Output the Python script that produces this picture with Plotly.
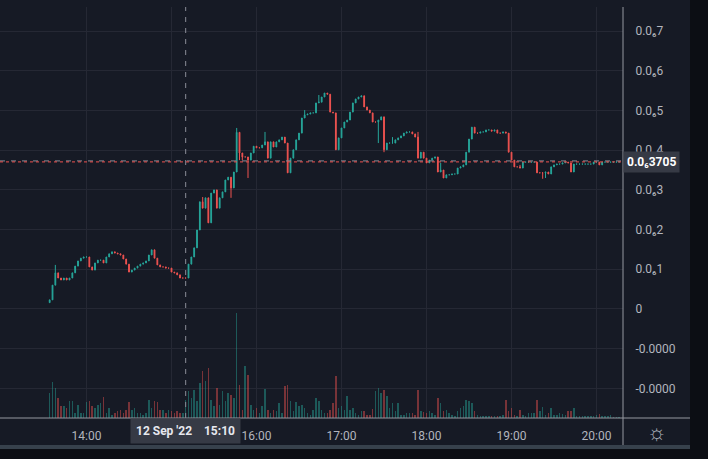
import pandas as pd
import plotly.graph_objects as go

# 2-minute candles, prices in units of 1e-7 (axis labels use the 0.0₆ notation)
start = "2022-09-12 13:34"
first_open = 0.16
closes = [
    0.23, 0.60, 0.91, 0.78, 0.73, 0.78, 0.73, 0.78, 0.91, 1.08,
    1.21, 1.28, 1.31, 1.31, 1.06, 0.98, 1.16, 1.23, 1.23, 1.16,
    1.31, 1.39, 1.44, 1.41, 1.39, 1.36, 1.26, 1.13, 0.93, 0.98,
    1.03, 1.08, 1.13, 1.16, 1.21, 1.36, 1.49, 1.28, 1.11, 1.06,
    1.06, 1.03, 1.03, 0.93, 0.91, 0.86, 0.78, 0.78, 0.78, 1.13,
    1.31, 1.54, 1.99, 2.70, 2.54, 2.80, 2.17, 2.92, 3.00, 2.54,
    2.80, 2.95, 3.25, 3.32, 3.05, 3.45, 4.45, 3.93, 3.83, 3.83,
    3.75, 3.93, 4.10, 4.06, 4.06, 4.13, 4.21, 3.80, 4.21, 4.08,
    4.21, 4.26, 4.33, 4.18, 3.43, 3.80, 4.01, 4.26, 4.43, 4.81,
    4.89, 4.91, 4.94, 4.94, 5.19, 5.21, 5.34, 5.44, 5.41, 4.96,
    4.94, 4.01, 4.31, 4.56, 4.71, 4.76, 4.96, 5.19, 5.29, 5.34,
    5.37, 5.09, 5.01, 4.94, 4.71, 4.71, 4.76, 4.84, 4.01, 4.18,
    4.18, 4.18, 4.26, 4.31, 4.36, 4.43, 4.46, 4.46, 4.41, 4.33,
    3.80, 3.95, 3.80, 3.68, 3.75, 3.80, 3.83, 3.45, 3.50, 3.30,
    3.38, 3.38, 3.40, 3.40, 3.55, 3.58, 3.63, 3.95, 4.28, 4.58,
    4.43, 4.43, 4.46, 4.46, 4.51, 4.51, 4.48, 4.51, 4.43, 4.43,
    4.46, 4.43, 3.95, 3.75, 3.58, 3.58, 3.55, 3.70, 3.70, 3.70,
    3.70, 3.70, 3.43, 3.43, 3.43, 3.45, 3.40, 3.58, 3.63, 3.65,
    3.65, 3.68, 3.70, 3.68, 3.45, 3.65, 3.65, 3.65, 3.65, 3.65,
    3.65, 3.65, 3.70, 3.70, 3.63, 3.70, 3.70, 3.70, 3.70, 3.70,
    3.70, 3.705,
]
# candles whose wick goes past the body
wick_highs = {2: 1.11, 54: 2.82, 66: 4.56, 76: 4.46, 90: 5.01, 95: 5.39,
              121: 4.33, 130: 4.46, 138: 3.68, 166: 3.63}
wick_lows = {64: 2.80, 67: 3.75, 68: 3.75, 70: 3.30, 116: 4.18, 118: 3.95,
             174: 3.28, 175: 3.30}

volumes = [
    25, 36, 30, 20, 12, 12, 10, 17, 17, 5,
    13, 5, 5, 16, 17, 12, 10, 13, 15, 21,
    5, 10, 3, 5, 7, 8, 5, 8, 16, 8,
    10, 5, 5, 3, 5, 18, 10, 17, 16, 8,
    8, 5, 8, 7, 5, 7, 5, 5, 18, 27,
    20, 28, 17, 35, 47, 37, 50, 18, 12, 30,
    13, 27, 17, 25, 23, 20, 105, 33, 8, 52,
    43, 13, 8, 10, 5, 12, 29, 8, 5, 8,
    7, 15, 5, 32, 33, 17, 7, 16, 12, 13,
    10, 5, 3, 8, 20, 17, 8, 5, 5, 8,
    15, 42, 10, 12, 8, 22, 8, 10, 5, 3,
    7, 7, 3, 3, 9, 27, 30, 25, 28, 22,
    10, 15, 7, 15, 3, 3, 5, 5, 5, 3,
    28, 7, 6, 5, 7, 5, 3, 20, 15, 7,
    8, 5, 3, 2, 7, 10, 12, 18, 17, 15,
    7, 3, 2, 2, 2, 2, 2, 2, 2, 2,
    3, 18, 7, 10, 3, 2, 8, 3, 2, 5,
    5, 5, 18, 7, 11, 3, 5, 10, 3, 3,
    5, 4, 3, 7, 7, 10, 2, 2, 2, 2,
    2, 2, 2, 3, 4, 2, 2, 2, 3, 1,
    1, 1,
]

price_ticks = [-2, -1, 0, 1, 2, 3, 4, 5, 6, 7]
price_labels = ["-0.0000", "-0.0000", "0", "0.0₆1", "0.0₆2", "0.0₆3",
                "0.0₆4", "0.0₆5", "0.0₆6", "0.0₆7"]
hour_ticks = ["2022-09-12 14:00", "2022-09-12 15:00", "2022-09-12 16:00",
              "2022-09-12 17:00", "2022-09-12 18:00", "2022-09-12 19:00",
              "2022-09-12 20:00"]
# 15:00 is hidden behind the crosshair time label
hour_labels = ["14:00", "", "16:00", "17:00", "18:00", "19:00", "20:00"]

last_price = 3.705
last_label = "0.0₆3705"
cursor_time = "2022-09-12 15:10"
cursor_price = 3.73
cursor_label = "12 Sep '22&nbsp;&nbsp;&nbsp;&nbsp;15:10"

UP = "#26a69a"
DOWN = "#ef5350"
BG = "#161a25"
TXT = "#b2b5be"

times = pd.date_range(start, periods=len(closes), freq="2min")
opens = [first_open] + closes[:-1]
highs = [wick_highs.get(i, max(o, c)) for i, (o, c) in enumerate(zip(opens, closes))]
lows = [wick_lows.get(i, min(o, c)) for i, (o, c) in enumerate(zip(opens, closes))]
vol_colors = ["rgba(38,166,154,0.45)" if c >= o else "rgba(239,83,80,0.45)"
              for o, c in zip(opens, closes)]

fig = go.Figure()
fig.add_trace(go.Candlestick(
    x=times, open=opens, high=highs, low=lows, close=closes,
    increasing=dict(line=dict(color=UP, width=1), fillcolor=UP),
    decreasing=dict(line=dict(color=DOWN, width=1), fillcolor=DOWN),
    whiskerwidth=0, hoverinfo="skip",
))
fig.add_trace(go.Bar(
    x=times, y=volumes, marker_color=vol_colors, marker_line_width=0,
    width=60000, yaxis="y2", hoverinfo="skip",
))

panel_right = 690 / 623
panel_bottom = (418 - 445) / 411

fig.update_layout(
    width=708, height=459,
    margin=dict(l=0, r=85, t=7, b=41),
    paper_bgcolor="#0c0e14",
    plot_bgcolor=BG,
    showlegend=False,
    font=dict(family="Roboto", size=12, color=TXT),
    xaxis=dict(
        type="date",
        range=["2022-09-12 12:58:56", "2022-09-12 20:18:42"],
        tickvals=hour_ticks, ticktext=hour_labels,
        showgrid=True, gridcolor="#252834", gridwidth=1,
        zeroline=False, showline=False,
        ticks="outside", ticklen=7, tickcolor="rgba(0,0,0,0)",
        tickfont=dict(size=12, color=TXT),
        rangeslider=dict(visible=False),
    ),
    yaxis=dict(
        side="right",
        range=[-2.746, 7.607],
        tickvals=price_ticks, ticktext=price_labels,
        showgrid=True, gridcolor="#252834", gridwidth=1,
        zeroline=False, showline=False,
        ticks="outside", ticklen=9, tickcolor="rgba(0,0,0,0)",
        tickfont=dict(size=12, color=TXT),
    ),
    yaxis2=dict(overlaying="y", range=[0, 411], visible=False),
    bargap=0,
    boxgap=0.6,
)

fig.add_shape(type="rect", xref="paper", yref="paper", x0=0, x1=panel_right,
              y0=panel_bottom, y1=1.02, fillcolor=BG, line_width=0, layer="below")
fig.add_shape(type="rect", xref="paper", yref="paper", x0=0, x1=panel_right,
              y0=(418 - 449) / 411, y1=panel_bottom, fillcolor="#37414c", line_width=0)
fig.add_shape(type="line", xref="paper", yref="paper", x0=1, x1=1,
              y0=panel_bottom, y1=1, line=dict(color="#9598a1", width=1))
fig.add_shape(type="line", xref="paper", yref="paper", x0=0, x1=panel_right,
              y0=0, y1=0, line=dict(color="#9598a1", width=1))
# crosshair
fig.add_shape(type="line", xref="x", yref="paper", x0=cursor_time, x1=cursor_time,
              y0=0, y1=1, line=dict(color="#8a8d97", width=1, dash="5px,6px"))
fig.add_shape(type="line", xref="paper", yref="y", x0=0, x1=1,
              y0=cursor_price, y1=cursor_price,
              line=dict(color="#8a8d97", width=1, dash="5px,6px"))
# last price line
fig.add_shape(type="line", xref="paper", yref="y", x0=0, x1=1,
              y0=last_price, y1=last_price,
              line=dict(color=DOWN, width=1, dash="dot"))

fig.add_annotation(
    x=1, xref="paper", xanchor="left", y=last_price, yref="y", yanchor="middle",
    text=f"<b>{last_label}</b>", showarrow=False, bgcolor="#363a45",
    font=dict(size=12, color="#ffffff"), borderpad=3,
)
fig.add_annotation(
    x=cursor_time, xref="x", xanchor="center", y=(418 - 430.5) / 411, yref="paper",
    yanchor="middle", text=f"<b>{cursor_label}</b>", showarrow=False,
    bgcolor="#363a45", font=dict(size=12, color="#e6e8ee"), borderpad=5,
)
fig.add_annotation(
    x=657 / 623, xref="paper", xanchor="center", y=(418 - 432) / 411, yref="paper",
    yanchor="middle", text="☼", showarrow=False,
    font=dict(size=22, color=TXT),
)

fig.write_html("out.html", config={"displayModeBar": False},
               post_script="document.body.style.margin='0';")
